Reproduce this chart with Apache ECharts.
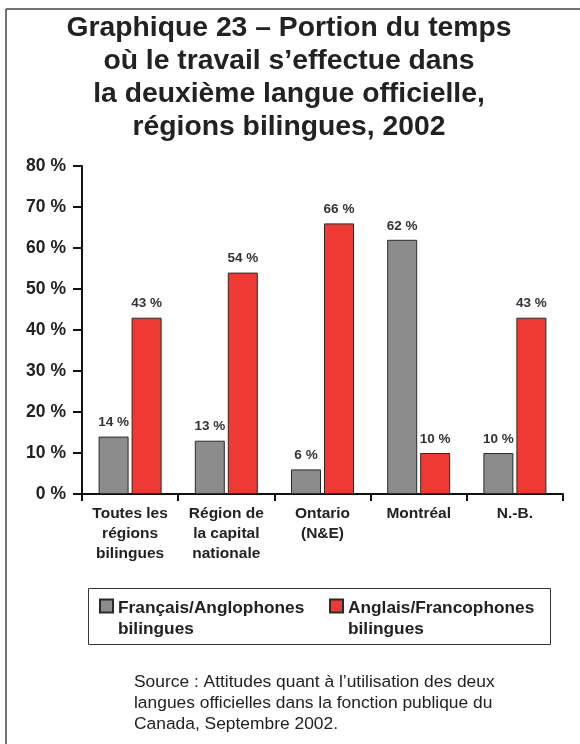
<!DOCTYPE html>
<html>
<head>
<meta charset="utf-8">
<script src="https://cdn.jsdelivr.net/npm/echarts@6/dist/echarts.min.js"></script>
<style>
html,body{margin:0;padding:0;background:#fff;}
#c{width:580px;height:744px;}
</style>
</head>
<body>
<div id="c"></div>
<script>
const titleText = 'Graphique 23 – Portion du temps\noù le travail s’effectue dans\nla deuxième langue officielle,\nrégions bilingues, 2002';
const categories = ['Toutes les\nrégions\nbilingues', 'Région de\nla capital\nnationale', 'Ontario\n(N&E)', 'Montréal', 'N.-B.'];
const seriesNames = ['Français/Anglophones\nbilingues', 'Anglais/Francophones\nbilingues'];
const frAngValues = [14, 13, 6, 62, 10];
const angFrValues = [43, 54, 66, 10, 43];
const sourceText = 'Source : Attitudes quant à l’utilisation des deux\nlangues officielles dans la fonction publique du\nCanada, Septembre 2002.';

const FONT = '"Liberation Sans", Arial, Helvetica, sans-serif';
const chart = echarts.init(document.getElementById('c'), null, {renderer: 'canvas'});

const labelCfg = {
  show: true, position: 'top', distance: 7,
  formatter: '{c} %', fontFamily: FONT, fontWeight: 'bold', fontSize: 13.5, color: '#333'
};
const legendIcon = 'path://M0,1h13v13h-13z M0,40';

chart.setOption({
  animation: false,
  backgroundColor: '#fff',
  grid: {left: 82, right: 17, top: 166, bottom: 250, containLabel: false},
  legend: {
    left: 99, top: 598, orient: 'horizontal', padding: 0,
    itemWidth: 13, itemHeight: 40, itemGap: 16, itemTextGap: 15,
    icon: legendIcon,
    textStyle: {fontFamily: FONT, fontWeight: 'bold', fontSize: 17.3, lineHeight: 21, color: '#222', width: 195},
    data: seriesNames
  },
  xAxis: {
    type: 'category',
    data: categories,
    boundaryGap: true,
    axisLine: {lineStyle: {color: '#111', width: 2}},
    axisTick: {show: true, length: 7, lineStyle: {color: '#111', width: 2}},
    axisLabel: {interval: 0, margin: 10, fontFamily: FONT, fontWeight: 'bold', fontSize: 15.5, lineHeight: 20, color: '#222'}
  },
  yAxis: {
    type: 'value', min: 0, max: 80, interval: 10,
    axisLine: {show: true, lineStyle: {color: '#111', width: 2}},
    axisTick: {show: true, length: 9, lineStyle: {color: '#111', width: 2}},
    splitLine: {show: false},
    axisLabel: {formatter: '{value} %', margin: 16, fontFamily: FONT, fontWeight: 'bold', fontSize: 17.5, color: '#222'}
  },
  series: [
    {
      name: seriesNames[0], type: 'bar', data: frAngValues,
      barWidth: 30, barGap: '10%',
      itemStyle: {color: '#8c8c8c', borderColor: '#2a2a2a', borderWidth: 1},
      label: labelCfg
    },
    {
      name: seriesNames[1], type: 'bar', data: angFrValues,
      barWidth: 30, barGap: '10%',
      itemStyle: {color: '#ee3a32', borderColor: '#2a2a2a', borderWidth: 1},
      label: labelCfg
    }
  ],
  graphic: [
    {type: 'line', shape: {x1: 6, y1: 9, x2: 580, y2: 9}, style: {stroke: '#444', lineWidth: 1.5}, silent: true},
    {type: 'line', shape: {x1: 6, y1: 9, x2: 6, y2: 744}, style: {stroke: '#444', lineWidth: 1.5}, silent: true},
    {type: 'text', x: 289, y: 12, style: {text: titleText, align: 'center', verticalAlign: 'top', fontFamily: FONT, fontWeight: 'bold', fontSize: 28.3, lineHeight: 33, fill: '#222'}, silent: true},
    {type: 'rect', shape: {x: 88.5, y: 588.5, width: 462, height: 56}, style: {fill: 'none', stroke: '#333', lineWidth: 1}, silent: true, z: -1},
    {type: 'text', x: 134, y: 672, style: {text: sourceText, verticalAlign: 'top', fontFamily: FONT, fontSize: 17.4, lineHeight: 21, fill: '#222'}, silent: true}
  ]
});
</script>
</body>
</html>
